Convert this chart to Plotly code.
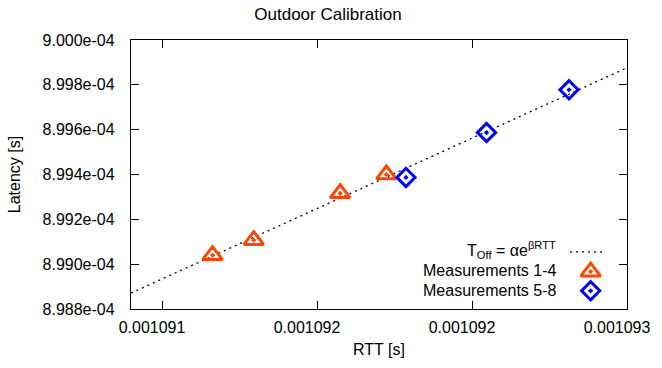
import plotly.graph_objects as go

# ---- data ----
meas14_rtt = [0.0010911630, 0.0010912960, 0.0010915748, 0.0010917237]
meas14_lat = [8.99040e-4, 8.99107e-4, 8.99316e-4, 8.99400e-4]
meas58_rtt = [0.0010917870, 0.0010920468, 0.0010923130]
meas58_lat = [8.99387e-4, 8.99587e-4, 8.99778e-4]
fit_rtt = [0.0010909, 0.0010925]
fit_lat = [8.98871e-4, 8.99876e-4]

x_tickvals = [0.0010910, 0.0010915, 0.0010920, 0.0010925]
x_ticktext = ["0.001091", "0.001092", "0.001092", "0.001093"]
y_tickvals = [8.988e-4, 8.990e-4, 8.992e-4, 8.994e-4, 8.996e-4, 8.998e-4, 9.000e-4]
y_ticktext = ["8.988e-04", "8.990e-04", "8.992e-04", "8.994e-04", "8.996e-04", "8.998e-04", "9.000e-04"]

ORANGE = "#ff4500"
BLUE = "#0000ff"
FONT = "Liberation Sans, Arial, sans-serif"
FS = 16

TRI = dict(symbol="triangle-up-open-dot", size=17, color=ORANGE, line=dict(width=3, color=ORANGE))
DIA = dict(symbol="diamond-open-dot", size=14, color=BLUE, line=dict(width=3, color=BLUE))
FITLINE = dict(color="black", width=1.3, dash="2px,4px")

fig = go.Figure()
fig.add_trace(go.Scatter(x=fit_rtt, y=fit_lat, mode="lines", line=FITLINE,
                         showlegend=False, hoverinfo="skip"))
fig.add_trace(go.Scatter(x=meas14_rtt, y=meas14_lat, mode="markers", marker=TRI,
                         showlegend=False))
fig.add_trace(go.Scatter(x=meas58_rtt, y=meas58_lat, mode="markers", marker=DIA,
                         showlegend=False))

# legend keys (gnuplot style: text left, sample right) on an overlay 0..1 axis
L, R, T, B = 131, 636, 40, 310
W, H = R - L, B - T
def px(x): return (x - L) / W
def py(y): return (B - y) / H

fig.add_trace(go.Scatter(x=[px(578), px(611)], y=[py(252.7), py(252.7)], mode="lines",
                         line=FITLINE, xaxis="x2", yaxis="y2", showlegend=False, hoverinfo="skip"))
fig.add_trace(go.Scatter(x=[px(599)], y=[py(272.5)], mode="markers", marker=TRI,
                         xaxis="x2", yaxis="y2", showlegend=False, hoverinfo="skip"))
fig.add_trace(go.Scatter(x=[px(599)], y=[py(291.7)], mode="markers", marker=DIA,
                         xaxis="x2", yaxis="y2", showlegend=False, hoverinfo="skip"))

legend_texts = ["T<sub>Off</sub> = αe<sup>βRTT</sup>", "Measurements 1-4", "Measurements 5-8"]
legend_rows = [251, 271.5, 291.5]
annotations = []
for t, ry in zip(legend_texts, legend_rows):
    annotations.append(dict(text=t, x=px(566), y=py(ry), xref="paper", yref="paper",
                            xanchor="right", yanchor="middle", showarrow=False,
                            font=dict(family=FONT, size=FS, color="black")))

axis_common = dict(showgrid=False, zeroline=False, showline=True, linecolor="black",
                   linewidth=1.3, mirror="allticks", ticks="inside", ticklen=8,
                   tickcolor="black", tickwidth=1.2,
                   tickfont=dict(family=FONT, size=FS, color="black"))

fig.update_layout(
    width=662, height=368,
    margin=dict(l=L, r=662 - R, t=T, b=368 - B),
    paper_bgcolor="white", plot_bgcolor="white",
    font=dict(family=FONT, size=FS, color="black"),
    title=dict(text="Outdoor Calibration", x=(253 + 403) / 2 / 662, xanchor="center",
               y=1 - 14 / 368, yanchor="middle",
               font=dict(family=FONT, size=17, color="black")),
    xaxis=dict(range=[fit_rtt[0], fit_rtt[1]], tickvals=x_tickvals, ticktext=x_ticktext,
               title=dict(text="RTT [s]", font=dict(family=FONT, size=FS), standoff=8),
               ticklabelshift=-10, ticklabelstandoff=4, **axis_common),
    yaxis=dict(range=[8.988e-4, 9.000e-4], tickvals=y_tickvals, ticktext=y_ticktext,
               title=dict(text="Latency [s]", font=dict(family=FONT, size=FS), standoff=17),
               ticklabelstandoff=12, **axis_common),
    xaxis2=dict(range=[0, 1], overlaying="x", visible=False, fixedrange=True),
    yaxis2=dict(range=[0, 1], overlaying="y", visible=False, fixedrange=True),
    annotations=annotations,
    showlegend=False,
)

fig.write_html("out.html")
